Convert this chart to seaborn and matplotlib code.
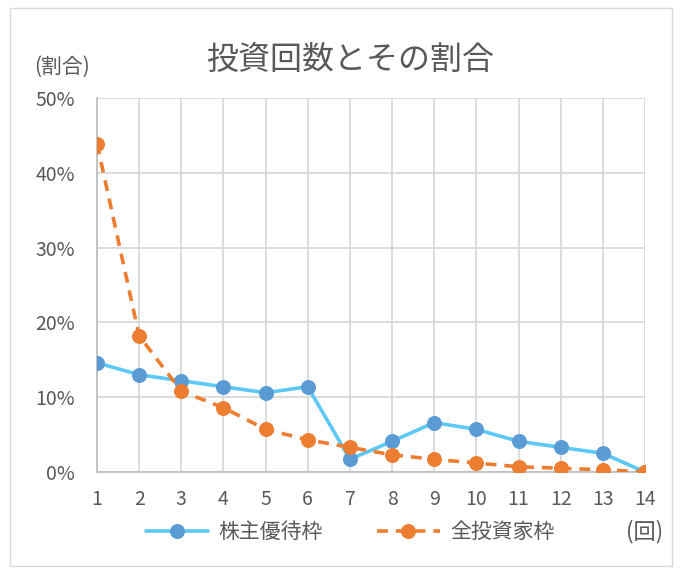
import matplotlib
matplotlib.use("Agg")
import matplotlib.pyplot as plt
import seaborn as sns
import pandas as pd
from matplotlib.patches import Rectangle
from matplotlib.ticker import FuncFormatter

counts = list(range(1, 15))
yutai = [14.6, 13.0, 12.2, 11.4, 10.6, 11.4, 1.7, 4.1, 6.6, 5.7, 4.1, 3.3, 2.5, 0.0]
zentai = [43.9, 18.2, 10.8, 8.6, 5.7, 4.3, 3.3, 2.3, 1.7, 1.2, 0.7, 0.5, 0.3, 0.0]
series_names = ["株主優待枠", "全投資家枠"]

sns.set_theme(style="white")
plt.rcParams['font.family'] = ['Noto Sans CJK JP', 'DejaVu Sans']

df = pd.DataFrame({"回数": counts * 2,
                   "割合": yutai + zentai,
                   "系列": [series_names[0]] * 14 + [series_names[1]] * 14})

fig = plt.figure(figsize=(6.83, 5.70), dpi=100)
ax = fig.add_axes([97/683, 1 - 472/570, (645-97)/683, (472-98)/570])

txt = "#595959"
grid = "#d9d9d9"

sub1 = df[df["系列"] == series_names[0]]
sub2 = df[df["系列"] == series_names[1]]
sns.lineplot(data=sub1, x="回数", y="割合", ax=ax, color="#5BC8F5", linewidth=2.6,
             marker="o", markersize=10, markerfacecolor="#5B9BD5", markeredgecolor="#5B9BD5",
             label=series_names[0], zorder=3)
sns.lineplot(data=sub2, x="回数", y="割合", ax=ax, color="#ED7D31", linewidth=2.6,
             linestyle=(0, (3, 2.2)), marker="o", markersize=10,
             markerfacecolor="#ED7D31", markeredgecolor="#ED7D31",
             label=series_names[1], zorder=4)

ax.set_xlim(1, 14)
ax.set_ylim(0, 50)
ax.set_xticks(counts)
ax.set_yticks([0, 10, 20, 30, 40, 50])
ax.yaxis.set_major_formatter(FuncFormatter(lambda v, p: f"{int(v)}%"))
ax.grid(True, color=grid, linewidth=1.3)
ax.set_axisbelow(True)
for s in ["top", "right"]:
    ax.spines[s].set_visible(False)
ax.spines["left"].set_color("#bfbfbf")
ax.spines["bottom"].set_color("#bfbfbf")
ax.spines["left"].set_linewidth(1.3)
ax.spines["bottom"].set_linewidth(1.3)
ax.tick_params(axis="y", colors=txt, labelsize=14, length=0, pad=16)
ax.tick_params(axis="x", colors=txt, labelsize=14, length=0, pad=12)
ax.set_xlabel("")
ax.set_ylabel("")

leg = ax.legend(loc="center", bbox_to_anchor=(350/683, 1 - 532/570), bbox_transform=fig.transFigure,
                ncol=2, frameon=False, fontsize=15, handlelength=3.0, columnspacing=2.6,
                handletextpad=0.5, labelcolor=txt, borderaxespad=0)

fig.text(350/683, 1 - 60/570, "投資回数とその割合", ha="center", va="center", fontsize=23, color=txt)
fig.text(62/683, 1 - 67/570, "(割合)", ha="center", va="center", fontsize=15, color=txt)
fig.text(645/683, 1 - 532/570, "(回)", ha="center", va="center", fontsize=16, color=txt)

fig.patches.append(Rectangle((10/683, 4/570), (672-10)/683, (566-8)/570, transform=fig.transFigure,
                             fill=False, edgecolor="#d9d9d9", linewidth=1))

fig.savefig("out.png", dpi=100)
